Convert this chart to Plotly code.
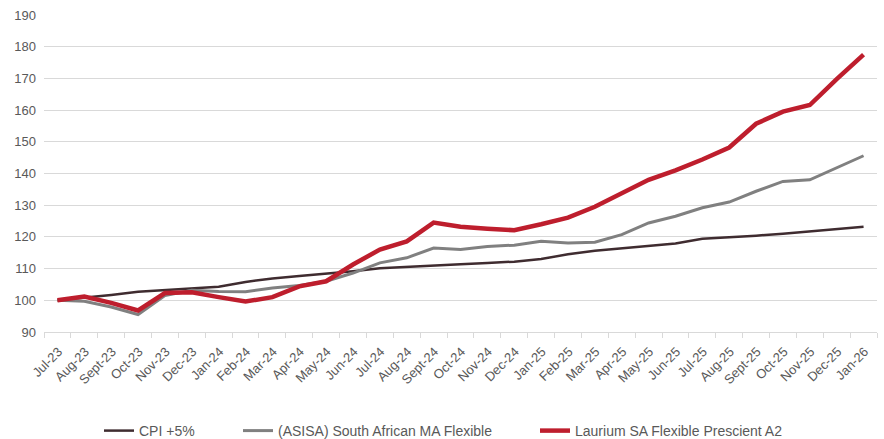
import plotly.graph_objects as go

months = ["Jul-23","Aug-23","Sept-23","Oct-23","Nov-23","Dec-23","Jan-24","Feb-24","Mar-24","Apr-24",
          "May-24","Jun-24","Jul-24","Aug-24","Sept-24","Oct-24","Nov-24","Dec-24","Jan-25","Feb-25",
          "Mar-25","Apr-25","May-25","Jun-25","Jul-25","Aug-25","Sept-25","Oct-25","Nov-25","Dec-25","Jan-26"]

cpi = [100.0, 100.8, 101.7, 102.7, 103.3, 103.7, 104.3, 105.8, 106.9, 107.7,
       108.4, 109.2, 110.1, 110.6, 111.0, 111.4, 111.8, 112.2, 113.0, 114.5,
       115.6, 116.4, 117.1, 117.9, 119.4, 119.8, 120.4, 121.0, 121.8, 122.5, 123.2]

asisa = [100.0, 99.7, 97.9, 95.5, 101.5, 103.2, 102.8, 102.7, 103.9, 104.7,
         106.0, 108.6, 111.8, 113.4, 116.5, 116.0, 117.0, 117.4, 118.6, 118.1,
         118.3, 120.7, 124.4, 126.5, 129.2, 131.0, 134.4, 137.5, 138.0, 141.8, 145.6]

laurium = [100.0, 101.2, 99.2, 96.8, 102.3, 102.5, 101.0, 99.6, 101.0, 104.4,
           106.0, 111.3, 116.0, 118.6, 124.5, 123.2, 122.6, 122.1, 124.0, 126.1,
           129.5, 133.9, 138.0, 141.0, 144.4, 148.2, 155.7, 159.5, 161.6, 169.8, 177.5]

y_ticks = [90, 100, 110, 120, 130, 140, 150, 160, 170, 180, 190]

W, H = 884, 439
L, R, T, B = 44, 7, 15, 107
PW, PH = W - L - R, H - T - B

def px_x(p):
    return (p - L) / PW

def px_y(p):
    return (H - B - p) / PH

fig = go.Figure()
fig.add_trace(go.Scatter(x=months, y=cpi, mode="lines", name="CPI +5%",
                         line=dict(color="#3f2c30", width=2.5), legend="legend"))
fig.add_trace(go.Scatter(x=months, y=asisa, mode="lines", name="(ASISA) South African MA Flexible",
                         line=dict(color="#808080", width=3), legend="legend2"))
fig.add_trace(go.Scatter(x=months, y=laurium, mode="lines", name="Laurium SA Flexible Prescient A2",
                         line=dict(color="#be1e2d", width=4.5), legend="legend3"))

font_family = "Liberation Sans, Arial, sans-serif"
leg_common = dict(orientation="h", xanchor="left", yanchor="middle", y=px_y(431),
                  font=dict(size=14, color="#595959", family=font_family), itemwidth=30,
                  bgcolor="rgba(0,0,0,0)", borderwidth=0)
fig.update_layout(
    width=W, height=H,
    margin=dict(l=L, r=R, t=T, b=B, autoexpand=False),
    paper_bgcolor="white", plot_bgcolor="white",
    font=dict(family=font_family, color="#595959", size=12),
    showlegend=True,
    legend=dict(x=px_x(99), **leg_common),
    legend2=dict(x=px_x(238), **leg_common),
    legend3=dict(x=px_x(535), **leg_common),
    xaxis=dict(type="category", range=[-0.5, len(months) - 0.5], tickangle=-45,
               tickson="boundaries", ticks="outside",
               ticklen=5, tickcolor="#d9d9d9", showline=True, linecolor="#d9d9d9", linewidth=1,
               showgrid=False, tickfont=dict(size=13, color="#595959"), fixedrange=True,
               automargin=False, ticklabelshift=1, ticklabelstandoff=6),
    yaxis=dict(range=[90, 190], tickvals=y_ticks, showgrid=True, gridcolor="#d9d9d9", gridwidth=1,
               zeroline=False, showline=False, ticks="", tickfont=dict(size=13, color="#595959"),
               ticklabelstandoff=7, automargin=False),
)

fig.write_html("out.html", config={"displayModeBar": False},
               post_script="document.body.style.margin='0';document.body.style.overflow='hidden';")
